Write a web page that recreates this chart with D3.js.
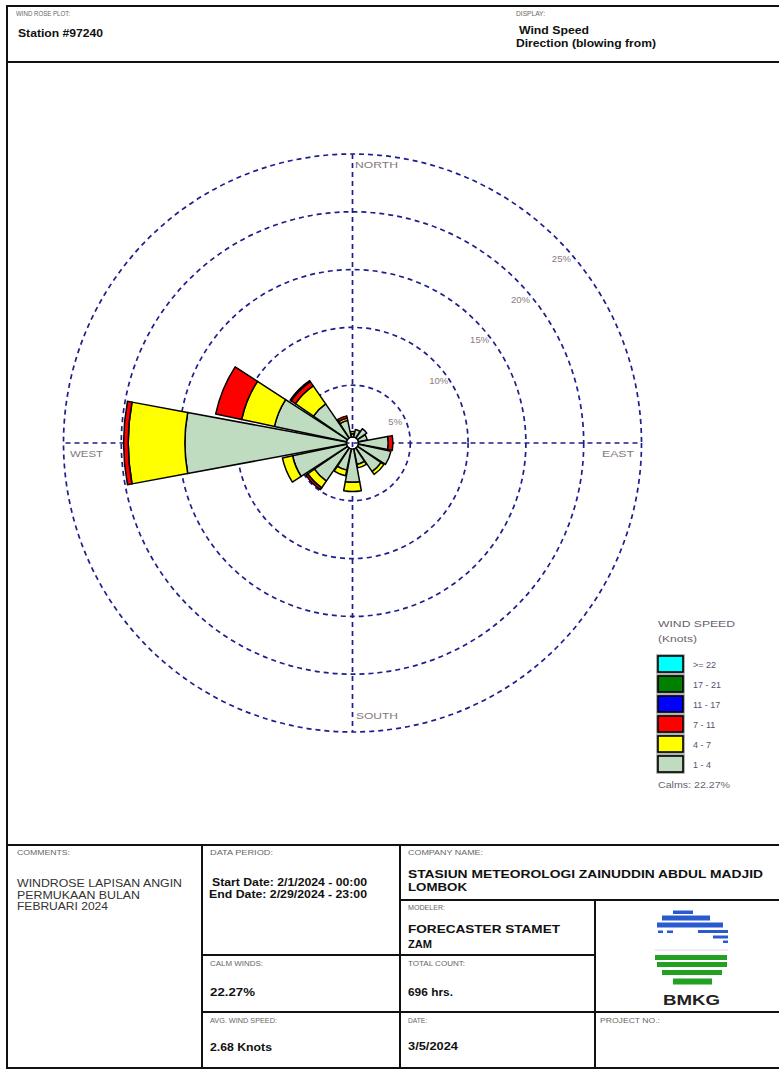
<!DOCTYPE html>
<html><head><meta charset="utf-8">
<script src="https://cdn.jsdelivr.net/npm/d3@7"></script>
<style>html,body{margin:0;padding:0;background:#fff}svg{display:block;font-family:"Liberation Sans",Arial,sans-serif}</style>
</head><body><svg id="c" width="779" height="1071"></svg>
<script>
// ---------- DATA ----------
const directions = ["N","NNE","NE","ENE","E","ESE","SE","SSE","S","SSW","SW","WSW","W","WNW","NW","NNW"];
const speedBins  = ["1 - 4","4 - 7","7 - 11","11 - 17","17 - 21",">= 22"];
const binColors  = ["#c0dcc0","#ffff00","#ff0000","#0000ff","#007f00","#00ffff"];
// frequency (%) per direction for each speed bin
const spd1_4   = [0.8,1.2,1.5,1.3,3.1,3.4,3.0,1.9,3.4,2.4,4.0,5.3,14.5,6.9,4.1,2.0];
const spd4_7   = [0.2,0,0,0,0,0,0.3,0.3,0.8,0.5,0.7,0.9,4.9,2.9,1.9,0.2];
const spd7_11  = [0,0,0,0,0.4,0,0,0,0,0,0.2,0,0.4,2.3,0.45,0.2];
const spd11_17 = [0,0,0,0,0,0,0,0,0,0,0,0,0,0,0.1,0];
const spd17_21 = [0,0,0,0,0,0,0,0,0,0,0,0,0,0,0,0];
const spd22    = [0,0,0,0,0,0,0,0,0,0,0,0,0,0,0,0];
const ringTicks = [5,10,15,20,25];
const ringLabels = ["5%","10%","15%","20%","25%"];
const legendLabels = [">= 22","17 - 21","11 - 17","7 - 11","4 - 7","1 - 4"];
const calms = "22.27%";

const series = [spd1_4,spd4_7,spd7_11,spd11_17,spd17_21,spd22];

// ---------- DRAW ----------
const svg = d3.select("#c");
svg.append("rect").attr("width",779).attr("height",1071).attr("fill","#fff");

const cx = 352.5, cy = 443;
const r = d3.scaleLinear().domain([0,25]).range([0,289]);
const g = svg.append("g").attr("transform",`translate(${cx},${cy})`);
const ringCol = "#1e1e8c";

g.selectAll("circle.ring").data(ringTicks).join("circle")
  .attr("r",d=>r(d)).attr("fill","none").attr("stroke",ringCol)
  .attr("stroke-width",1.7).attr("stroke-dasharray","5,4");
const R = r(25);
g.append("line").attr("x1",0).attr("x2",0).attr("y1",-R).attr("y2",R)
  .attr("stroke",ringCol).attr("stroke-width",1.7).attr("stroke-dasharray","5,4");
g.append("line").attr("y1",0).attr("y2",0).attr("x1",-R+2).attr("x2",R-1)
  .attr("stroke",ringCol).attr("stroke-width",1.7).attr("stroke-dasharray","5,4");

// petals
const half = 10.5*Math.PI/180;
const arc = d3.arc();
const petals = [];
directions.forEach((d,i)=>{
  let cum = 0;
  series.forEach((s,b)=>{
    const v = s[i];
    if (v>0){
      const a = i*22.5*Math.PI/180;
      petals.push({inner:Math.max(6,r(cum)), outer:r(cum+v), start:a-half, end:a+half, color:binColors[b]});
      cum += v;
    }
  });
});
g.selectAll("path.petal").data(petals).join("path")
  .attr("d",p=>arc({innerRadius:p.inner,outerRadius:p.outer,startAngle:p.start,endAngle:p.end}))
  .attr("fill",p=>p.color).attr("stroke","#000").attr("stroke-width",1.5).attr("stroke-linejoin","round");

// ring labels
g.selectAll("text.rl").data(ringTicks).join("text")
  .attr("x",d=>r(d)*0.7071-5).attr("y",d=>-r(d)*0.7071+23)
  .attr("font-size",9.5).attr("fill","#8a7c7c")
  .text((d,i)=>ringLabels[i]);

// text helper
function T(x,y,s,o={}){
  const t = svg.append("text").attr("x",x).attr("y",y).text(s)
    .attr("font-size",o.size||8).attr("font-weight",o.bold?"bold":"normal")
    .attr("fill",o.fill||"#555");
  if (o.anchor) t.attr("text-anchor",o.anchor);
  if (o.len) t.attr("textLength",o.len).attr("lengthAdjust","spacingAndGlyphs");
  return t;
}
// compass labels
T(355,168,"NORTH",{size:9.5,fill:"#857878",len:43});
T(356,719,"SOUTH",{size:9.5,fill:"#857878",len:42});
T(70,457,"WEST",{size:9.5,fill:"#857878",len:33});
T(602,457,"EAST",{size:9.5,fill:"#857878",len:32});

// legend
T(658,627,"WIND SPEED",{size:9,fill:"#6a5f70",len:77});
T(658,642,"(Knots)",{size:9,fill:"#6a5f70",len:39});
const legCols = binColors.slice().reverse();
const lg = svg.append("g");
legendLabels.forEach((lab,i)=>{
  const y = 656+20*i;
  lg.append("rect").attr("x",658).attr("y",y).attr("width",25).attr("height",16)
    .attr("fill",legCols[i]).attr("stroke","#999").attr("stroke-width",3.5);
  lg.append("rect").attr("x",658).attr("y",y).attr("width",25).attr("height",16)
    .attr("fill",legCols[i]).attr("stroke","#000").attr("stroke-width",1.6);
  T(693,y+11.5,lab,{size:9,fill:"#5a5070"});
});
T(658,788,"Calms: "+calms,{size:9,fill:"#6a5f70",len:72});

// frame & table lines
const ln = (x1,y1,x2,y2)=>svg.append("line").attr("x1",x1).attr("y1",y1).attr("x2",x2).attr("y2",y2)
  .attr("stroke","#111").attr("stroke-width",2);
ln(7,6,779,6); ln(7,5,7,1069); ln(7,62,779,62); ln(7,845,779,845); ln(7,1068,779,1068);
ln(202,845,202,1068); ln(400,845,400,1068);
ln(202,955,595,955); ln(202,1012,779,1012);
ln(400,900,779,900); ln(595,900,595,1068);

// header
T(16,16,"WIND ROSE PLOT:",{size:6.5,fill:"#666",len:54});
T(18,37,"Station #97240",{size:11,bold:true,fill:"#111",len:85});
T(516,16,"DISPLAY:",{size:6.5,fill:"#666",len:29});
T(519,34,"Wind Speed",{size:10.5,bold:true,fill:"#111",len:70});
T(516,47,"Direction (blowing from)",{size:10.5,bold:true,fill:"#111",len:140});

// table text
const sm = {size:7.5,fill:"#666"};
T(17,855,"COMMENTS:",{...sm,len:53});
T(17,887,"WINDROSE LAPISAN ANGIN",{size:11,fill:"#333",len:165});
T(17,898.5,"PERMUKAAN BULAN",{size:11,fill:"#333",len:123});
T(17,910,"FEBRUARI 2024",{size:11,fill:"#333",len:91});
T(210,855,"DATA PERIOD:",{...sm,len:63});
T(212,886,"Start Date: 2/1/2024 - 00:00",{size:11,bold:true,fill:"#111",len:155});
T(209,898,"End Date: 2/29/2024 - 23:00",{size:11,bold:true,fill:"#111",len:158});
T(210,966,"CALM WINDS:",{...sm,len:53});
T(210,996,calms,{size:11.5,bold:true,fill:"#111",len:45});
T(210,1023,"AVG. WIND SPEED:",{...sm,len:67});
T(210,1051,"2.68 Knots",{size:11.5,bold:true,fill:"#111",len:62});
T(408,855,"COMPANY NAME:",{...sm,len:75});
T(408,878,"STASIUN METEOROLOGI ZAINUDDIN ABDUL MADJID",{size:11,bold:true,fill:"#111",len:355});
T(408,891,"LOMBOK",{size:11,bold:true,fill:"#111",len:59});
T(408,910,"MODELER:",{...sm,len:37});
T(408,933,"FORECASTER STAMET",{size:11,bold:true,fill:"#111",len:152});
T(408,948,"ZAM",{size:11,bold:true,fill:"#111",len:24});
T(408,966,"TOTAL COUNT:",{...sm,len:57});
T(408,996,"696 hrs.",{size:11.5,bold:true,fill:"#111",len:45});
T(408,1023,"DATE:",{...sm,len:19});
T(408,1050,"3/5/2024",{size:11.5,bold:true,fill:"#111",len:50});
T(600,1023,"PROJECT NO.:",{...sm,len:60});

// BMKG logo (decoration)
const logoStripes = [
  [673,910.5,20,3.5,"#2a5ad0"],[662,915.5,48,5,"#2a5ad0"],[657,922.5,66,5,"#2a5ad0"],
  [658,930.5,5,2.5,"#2a5ad0"],[667,930.5,6,2.5,"#2a5ad0"],[698,930,30,3,"#2a5ad0"],
  [713,935.5,15,3,"#2a5ad0"],[723,940.5,5,2.5,"#2a5ad0"],
  [655,949.5,73,1,"#ddd"],
  [655,955,72,5,"#22a022"],[657,962,70,5,"#22a022"],[662,970,60,5,"#22a022"],[673,978.5,39,6,"#22a022"]
];
svg.append("g").selectAll("rect").data(logoStripes).join("rect")
  .attr("x",d=>d[0]).attr("y",d=>d[1]).attr("width",d=>d[2]).attr("height",d=>d[3]).attr("fill",d=>d[4]);
T(691.5,1005,"BMKG",{size:15,bold:true,fill:"#222",anchor:"middle",len:57});
</script></body></html>
